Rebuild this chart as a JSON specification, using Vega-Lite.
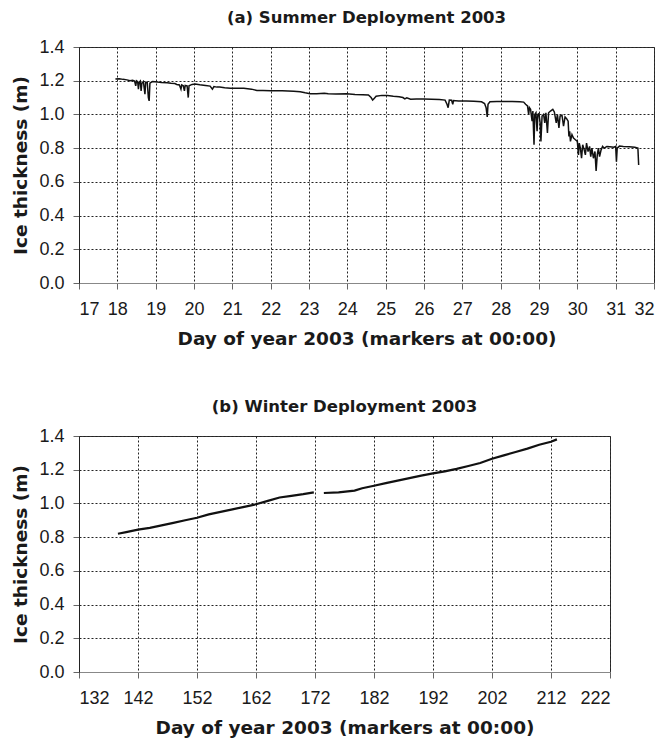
{
  "$schema": "https://vega.github.io/schema/vega-lite/v6.json",
  "background": "white",
  "padding": {"left": 11, "top": 9, "right": 0, "bottom": 2},
  "spacing": 50,
  "config": {
    "view": {"stroke": "#333", "strokeWidth": 1},
    "axis": {
      "labelFont": "Liberation Sans", "labelFontSize": 18, "labelColor": "#1a1a1a",
      "titleFont": "DejaVu Sans", "titleFontSize": 18.5, "titleFontWeight": "bold", "titleColor": "#1a1a1a",
      "domainColor": "#222", "tickColor": "#666", "tickSize": 6,
      "gridColor": "#222", "gridDash": [2, 2], "gridOpacity": 1, "gridWidth": 1
    },
    "axisX": {"labelPadding": 11, "titlePadding": 11, "domainColor": "#888"},
    "axisY": {"labelPadding": 9, "titlePadding": 8},
    "title": {"font": "DejaVu Sans", "fontSize": 16.5, "fontWeight": "bold", "color": "#1a1a1a", "offset": 12}
  },
  "datasets": {
    "summer": [
      {"day": 17.95, "thickness": 1.210}, {"day": 18.05, "thickness": 1.212}, {"day": 18.15, "thickness": 1.208},
      {"day": 18.25, "thickness": 1.205}, {"day": 18.33, "thickness": 1.200}, {"day": 18.40, "thickness": 1.203},
      {"day": 18.45, "thickness": 1.198}, {"day": 18.48, "thickness": 1.170}, {"day": 18.50, "thickness": 1.200},
      {"day": 18.53, "thickness": 1.195}, {"day": 18.55, "thickness": 1.150}, {"day": 18.57, "thickness": 1.190},
      {"day": 18.60, "thickness": 1.198}, {"day": 18.62, "thickness": 1.140}, {"day": 18.64, "thickness": 1.185},
      {"day": 18.68, "thickness": 1.195}, {"day": 18.72, "thickness": 1.120}, {"day": 18.74, "thickness": 1.190},
      {"day": 18.78, "thickness": 1.192}, {"day": 18.81, "thickness": 1.100}, {"day": 18.83, "thickness": 1.080},
      {"day": 18.85, "thickness": 1.185}, {"day": 18.88, "thickness": 1.190}, {"day": 18.92, "thickness": 1.195},
      {"day": 18.98, "thickness": 1.194}, {"day": 19.05, "thickness": 1.192}, {"day": 19.15, "thickness": 1.190},
      {"day": 19.30, "thickness": 1.188}, {"day": 19.40, "thickness": 1.185}, {"day": 19.50, "thickness": 1.183},
      {"day": 19.55, "thickness": 1.178}, {"day": 19.62, "thickness": 1.175}, {"day": 19.66, "thickness": 1.150},
      {"day": 19.68, "thickness": 1.175}, {"day": 19.72, "thickness": 1.170}, {"day": 19.75, "thickness": 1.140},
      {"day": 19.77, "thickness": 1.172}, {"day": 19.82, "thickness": 1.170}, {"day": 19.85, "thickness": 1.100},
      {"day": 19.87, "thickness": 1.170}, {"day": 19.95, "thickness": 1.178}, {"day": 20.03, "thickness": 1.180},
      {"day": 20.15, "thickness": 1.176}, {"day": 20.30, "thickness": 1.172}, {"day": 20.42, "thickness": 1.168},
      {"day": 20.48, "thickness": 1.150}, {"day": 20.52, "thickness": 1.165}, {"day": 20.60, "thickness": 1.162},
      {"day": 20.67, "thickness": 1.163}, {"day": 20.80, "thickness": 1.158}, {"day": 20.95, "thickness": 1.156},
      {"day": 21.10, "thickness": 1.155}, {"day": 21.30, "thickness": 1.155}, {"day": 21.50, "thickness": 1.150},
      {"day": 21.64, "thickness": 1.142}, {"day": 21.80, "thickness": 1.142}, {"day": 22.00, "thickness": 1.140},
      {"day": 22.30, "thickness": 1.140}, {"day": 22.60, "thickness": 1.137}, {"day": 22.77, "thickness": 1.135},
      {"day": 22.90, "thickness": 1.128}, {"day": 23.03, "thickness": 1.123}, {"day": 23.20, "thickness": 1.122},
      {"day": 23.40, "thickness": 1.126}, {"day": 23.50, "thickness": 1.122}, {"day": 23.70, "thickness": 1.121},
      {"day": 23.98, "thickness": 1.123}, {"day": 24.20, "thickness": 1.118}, {"day": 24.40, "thickness": 1.117},
      {"day": 24.55, "thickness": 1.115}, {"day": 24.62, "thickness": 1.100}, {"day": 24.66, "thickness": 1.085},
      {"day": 24.70, "thickness": 1.095}, {"day": 24.75, "thickness": 1.108}, {"day": 24.90, "thickness": 1.113},
      {"day": 25.05, "thickness": 1.112}, {"day": 25.20, "thickness": 1.108}, {"day": 25.35, "thickness": 1.105},
      {"day": 25.45, "thickness": 1.100}, {"day": 25.50, "thickness": 1.092}, {"day": 25.55, "thickness": 1.098},
      {"day": 25.65, "thickness": 1.090}, {"day": 25.80, "thickness": 1.092}, {"day": 26.00, "thickness": 1.092},
      {"day": 26.20, "thickness": 1.090}, {"day": 26.40, "thickness": 1.088}, {"day": 26.55, "thickness": 1.085},
      {"day": 26.60, "thickness": 1.060}, {"day": 26.63, "thickness": 1.040}, {"day": 26.66, "thickness": 1.085},
      {"day": 26.72, "thickness": 1.084}, {"day": 26.75, "thickness": 1.060}, {"day": 26.77, "thickness": 1.082},
      {"day": 26.90, "thickness": 1.080}, {"day": 27.10, "thickness": 1.079}, {"day": 27.30, "thickness": 1.078},
      {"day": 27.50, "thickness": 1.075}, {"day": 27.58, "thickness": 1.065}, {"day": 27.62, "thickness": 1.040},
      {"day": 27.65, "thickness": 0.985}, {"day": 27.67, "thickness": 1.060}, {"day": 27.72, "thickness": 1.075},
      {"day": 27.90, "thickness": 1.077}, {"day": 28.10, "thickness": 1.076}, {"day": 28.30, "thickness": 1.076},
      {"day": 28.50, "thickness": 1.075}, {"day": 28.60, "thickness": 1.073}, {"day": 28.65, "thickness": 1.060},
      {"day": 28.70, "thickness": 1.050}, {"day": 28.73, "thickness": 1.000}, {"day": 28.75, "thickness": 1.040},
      {"day": 28.78, "thickness": 1.030}, {"day": 28.82, "thickness": 0.960}, {"day": 28.84, "thickness": 1.020},
      {"day": 28.87, "thickness": 0.820}, {"day": 28.89, "thickness": 1.000}, {"day": 28.92, "thickness": 1.010},
      {"day": 28.95, "thickness": 0.900}, {"day": 28.97, "thickness": 1.000}, {"day": 29.00, "thickness": 1.005},
      {"day": 29.03, "thickness": 0.950}, {"day": 29.05, "thickness": 0.840}, {"day": 29.08, "thickness": 0.990},
      {"day": 29.12, "thickness": 1.000}, {"day": 29.15, "thickness": 0.950}, {"day": 29.18, "thickness": 1.010},
      {"day": 29.22, "thickness": 0.890}, {"day": 29.25, "thickness": 1.010}, {"day": 29.30, "thickness": 1.020},
      {"day": 29.36, "thickness": 1.030}, {"day": 29.40, "thickness": 1.015}, {"day": 29.45, "thickness": 0.950},
      {"day": 29.48, "thickness": 1.000}, {"day": 29.52, "thickness": 0.920}, {"day": 29.55, "thickness": 0.990},
      {"day": 29.60, "thickness": 0.995}, {"day": 29.64, "thickness": 0.930}, {"day": 29.68, "thickness": 0.985},
      {"day": 29.72, "thickness": 0.975}, {"day": 29.76, "thickness": 0.960}, {"day": 29.78, "thickness": 0.870},
      {"day": 29.80, "thickness": 0.900}, {"day": 29.82, "thickness": 0.840}, {"day": 29.86, "thickness": 0.880},
      {"day": 29.90, "thickness": 0.860}, {"day": 29.95, "thickness": 0.850}, {"day": 30.00, "thickness": 0.840},
      {"day": 30.03, "thickness": 0.760}, {"day": 30.05, "thickness": 0.830}, {"day": 30.08, "thickness": 0.800},
      {"day": 30.11, "thickness": 0.740}, {"day": 30.14, "thickness": 0.820}, {"day": 30.18, "thickness": 0.790},
      {"day": 30.21, "thickness": 0.760}, {"day": 30.24, "thickness": 0.830}, {"day": 30.28, "thickness": 0.780},
      {"day": 30.32, "thickness": 0.810}, {"day": 30.35, "thickness": 0.750}, {"day": 30.38, "thickness": 0.800},
      {"day": 30.42, "thickness": 0.740}, {"day": 30.46, "thickness": 0.780}, {"day": 30.49, "thickness": 0.665},
      {"day": 30.52, "thickness": 0.760}, {"day": 30.55, "thickness": 0.800}, {"day": 30.58, "thickness": 0.750},
      {"day": 30.62, "thickness": 0.790}, {"day": 30.66, "thickness": 0.810}, {"day": 30.70, "thickness": 0.800},
      {"day": 30.77, "thickness": 0.810}, {"day": 30.85, "thickness": 0.808}, {"day": 30.95, "thickness": 0.805},
      {"day": 31.00, "thickness": 0.810}, {"day": 31.02, "thickness": 0.720}, {"day": 31.04, "thickness": 0.800},
      {"day": 31.10, "thickness": 0.812}, {"day": 31.20, "thickness": 0.810}, {"day": 31.35, "thickness": 0.808},
      {"day": 31.50, "thickness": 0.805}, {"day": 31.58, "thickness": 0.800}, {"day": 31.60, "thickness": 0.700}
    ],
    "winter": [
      {"day": 138.6, "thickness": 0.820, "seg": 1}, {"day": 140, "thickness": 0.830, "seg": 1},
      {"day": 142, "thickness": 0.845, "seg": 1}, {"day": 144, "thickness": 0.855, "seg": 1},
      {"day": 146, "thickness": 0.870, "seg": 1}, {"day": 148, "thickness": 0.885, "seg": 1},
      {"day": 150, "thickness": 0.900, "seg": 1}, {"day": 152, "thickness": 0.915, "seg": 1},
      {"day": 154, "thickness": 0.935, "seg": 1}, {"day": 156, "thickness": 0.950, "seg": 1},
      {"day": 158, "thickness": 0.965, "seg": 1}, {"day": 160, "thickness": 0.980, "seg": 1},
      {"day": 162, "thickness": 0.995, "seg": 1}, {"day": 164, "thickness": 1.015, "seg": 1},
      {"day": 166, "thickness": 1.035, "seg": 1}, {"day": 168, "thickness": 1.045, "seg": 1},
      {"day": 170, "thickness": 1.055, "seg": 1}, {"day": 171.8, "thickness": 1.066, "seg": 1},
      {"day": 173.5, "thickness": 1.062, "seg": 2}, {"day": 176, "thickness": 1.066, "seg": 2},
      {"day": 178.7, "thickness": 1.076, "seg": 2}, {"day": 180, "thickness": 1.090, "seg": 2},
      {"day": 182, "thickness": 1.105, "seg": 2}, {"day": 184, "thickness": 1.120, "seg": 2},
      {"day": 186, "thickness": 1.135, "seg": 2}, {"day": 188, "thickness": 1.150, "seg": 2},
      {"day": 190, "thickness": 1.165, "seg": 2}, {"day": 192, "thickness": 1.178, "seg": 2},
      {"day": 194, "thickness": 1.190, "seg": 2}, {"day": 196, "thickness": 1.205, "seg": 2},
      {"day": 198, "thickness": 1.222, "seg": 2}, {"day": 200, "thickness": 1.240, "seg": 2},
      {"day": 202, "thickness": 1.265, "seg": 2}, {"day": 204, "thickness": 1.285, "seg": 2},
      {"day": 206, "thickness": 1.305, "seg": 2}, {"day": 208, "thickness": 1.325, "seg": 2},
      {"day": 210, "thickness": 1.348, "seg": 2}, {"day": 212, "thickness": 1.366, "seg": 2},
      {"day": 213, "thickness": 1.380, "seg": 2}
    ]
  },
  "vconcat": [
    {
      "title": "(a) Summer Deployment 2003",
      "width": 575,
      "height": 236,
      "data": {"name": "summer"},
      "mark": {"type": "line", "color": "#111", "strokeWidth": 1.5},
      "encoding": {
        "x": {
          "field": "day", "type": "quantitative",
          "scale": {"domain": [17, 32], "nice": false, "zero": false},
          "axis": {"values": [17, 18, 19, 20, 21, 22, 23, 24, 25, 26, 27, 28, 29, 30, 31, 32], "format": "d", "title": "Day of year 2003 (markers at 00:00)"}
        },
        "y": {
          "field": "thickness", "type": "quantitative",
          "scale": {"domain": [0, 1.4], "nice": false},
          "axis": {"values": [0, 0.2, 0.4, 0.6, 0.8, 1.0, 1.2, 1.4], "format": ".1f", "title": "Ice thickness (m)"}
        }
      }
    },
    {
      "title": "(b) Winter Deployment 2003",
      "width": 531,
      "height": 236,
      "data": {"name": "winter"},
      "mark": {"type": "line", "color": "#111", "strokeWidth": 2.2},
      "encoding": {
        "x": {
          "field": "day", "type": "quantitative",
          "scale": {"domain": [132, 222], "nice": false, "zero": false},
          "axis": {"values": [132, 142, 152, 162, 172, 182, 192, 202, 212, 222], "format": "d", "title": "Day of year 2003 (markers at 00:00)"}
        },
        "y": {
          "field": "thickness", "type": "quantitative",
          "scale": {"domain": [0, 1.4], "nice": false},
          "axis": {"values": [0, 0.2, 0.4, 0.6, 0.8, 1.0, 1.2, 1.4], "format": ".1f", "title": "Ice thickness (m)"}
        },
        "detail": {"field": "seg", "type": "nominal"}
      }
    }
  ]
}
